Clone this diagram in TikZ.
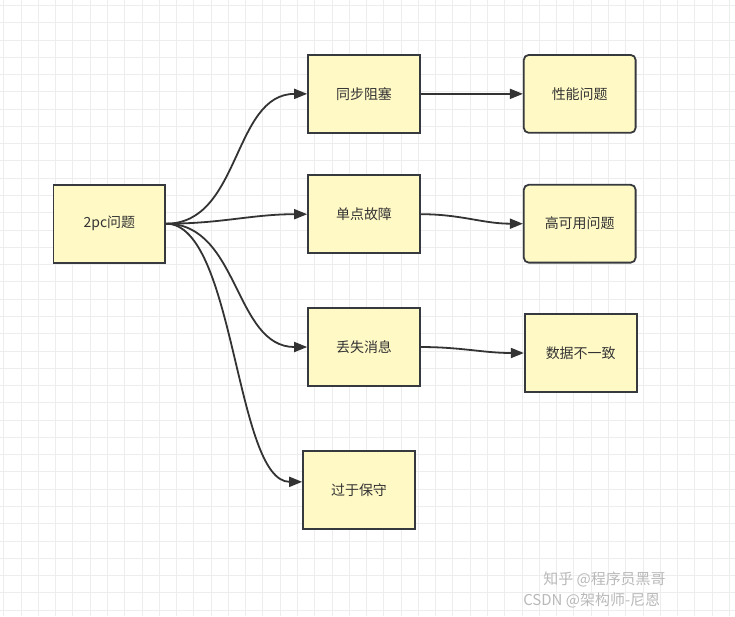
\documentclass[tikz,border=0pt]{standalone}
\usepackage{fontspec}
\setmainfont{Noto Sans CJK SC}
\usetikzlibrary{arrows.meta}
\definecolor{boxfill}{HTML}{FFF9C6}
\definecolor{boxline}{HTML}{36393D}
\definecolor{gridgray}{HTML}{EDEDED}
\definecolor{inkgray}{HTML}{333333}
\tikzset{
 box/.style={draw=boxline,line width=1.8pt,fill=boxfill,minimum width=112pt,minimum height=78pt,
  font=\fontsize{14}{16}\selectfont,text=inkgray},
 rbox/.style={box,rounded corners=5pt},
 link/.style={draw=inkgray,line width=1.8pt,-{Triangle[length=13pt,width=10pt]}},
 mark text/.style={text=gray!55,font=\fontsize{15}{17}\selectfont,anchor=west}
}
\begin{document}
\begin{tikzpicture}[x=1pt,y=-1pt]
 \fill[white] (0,0) rectangle (735,616);
 % grid paper
 \foreach \x in {3.3,20.6,...,735} \draw[gridgray,line width=1pt] (\x,0)--(\x,616);
 \foreach \y in {5,22.3,...,616} \draw[gridgray,line width=1pt] (0,\y)--(735,\y);
 % boxes
 \node[box] (p2c) at (109,223.5) {2pc问题};
 \node[box] (sync) at (364,93.5) {同步阻塞};
 \node[box] (single) at (364,214) {单点故障};
 \node[box] (lost) at (364,347) {丢失消息};
 \node[box] (conserv) at (359,490) {过于保守};
 \node[rbox] (perf) at (580,93.5) {性能问题};
 \node[rbox] (ha) at (580,223.5) {高可用问题};
 \node[box] (incons) at (581,353) {数据不一致};
 % links
 \draw[link] (p2c.east) to[out=0,in=180] (sync.west);
 \draw[link] (p2c.east) to[out=0,in=180] (single.west);
 \draw[link] (p2c.east) to[out=0,in=180] (lost.west);
 \draw[link] (p2c.east) .. controls (235,223.5) and (235,482) .. ([yshift=8pt]conserv.west);
 \draw[link] (sync.east) -- (perf.west);
 \draw[link] (single.east) to[out=0,in=180] (ha.west);
 \draw[link] (lost.east) to[out=0,in=180] (incons.west);
 % watermarks
 \node[mark text] (zhihu) at (540,580) {知乎 @程序员黑哥};
 \node[mark text] (csdn) at (520,601) {CSDN @架构师-尼恩};
\end{tikzpicture}
\end{document}
